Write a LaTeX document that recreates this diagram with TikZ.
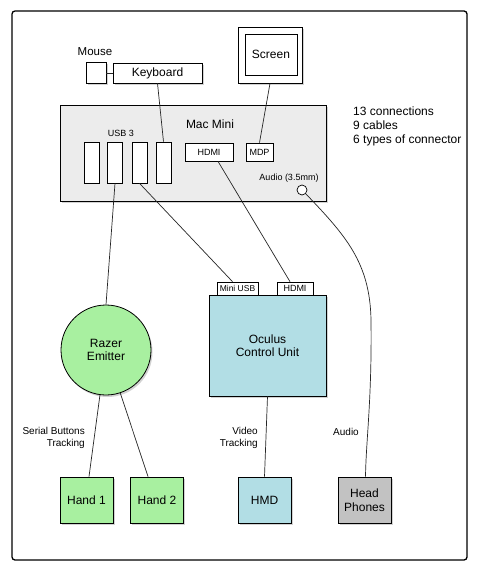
\documentclass[tikz,border=0pt]{standalone}
\usepackage{fontspec}
\setmainfont{Liberation Sans}
\usetikzlibrary{shadows,calc}
\definecolor{macgray}{HTML}{ECECEC}
\definecolor{grn}{HTML}{A8F0A0}
\definecolor{blu}{HTML}{B2DEE5}
\definecolor{gry}{HTML}{C2C2C2}
\tikzset{
  shd/.style={drop shadow={shadow xshift=1.5pt,shadow yshift=-2pt,opacity=0.35}},
  box/.style={draw,line width=0.8pt,fill=white,shd,inner sep=0pt,font=\fontsize{12}{13.5}\selectfont,align=center},
  port/.style={draw,line width=0.7pt,fill=white,inner sep=0pt,font=\fontsize{9}{10}\selectfont},
  lbl/.style={font=\fontsize{10}{12}\selectfont,inner sep=0pt,align=right},
  wire/.style={line width=0.7pt,draw=black!85}
}
\begin{document}
\begin{tikzpicture}[x=1pt,y=-1pt]
\useasboundingbox (0,0) rectangle (479,572);
\draw[line width=1.3pt,rounded corners=3pt,fill=white] (12,11) rectangle (467,560);

% top devices
\node[box,minimum width=20pt,minimum height=21pt] (mouse) at (96,73) {};
\node[lbl,font=\fontsize{11.5}{12}\selectfont] (mouselbl) at (95,52) {Mouse};
\node[box,minimum width=89pt,minimum height=20pt] (kb) at (157.5,73) {Keyboard};
\draw[wire] (mouse) -- (kb);
\node[box,minimum width=64pt,minimum height=56pt] (scrout) at (270,55) {};
\node[draw,line width=0.8pt,fill=white,minimum width=52pt,minimum height=41pt,inner sep=0pt,font=\fontsize{12}{13.5}\selectfont] (scr) at (271,54.5) {Screen};

% Mac mini
\node[box,fill=macgray,minimum width=266pt,minimum height=96pt] (mac) at (193,153) {};
\node[font=\fontsize{12}{13.5}\selectfont,inner sep=0pt] (maclbl) at (210,124) {Mac Mini};
\node[lbl,font=\fontsize{9}{10}\selectfont] (usblbl) at (121,133) {USB 3};
\foreach \i/\x in {1/91.5,2/115,3/139.5,4/163.5}
  \node[port,minimum width=15pt,minimum height=41pt] (p\i) at (\x,162.5) {};
\node[port,minimum width=48pt,minimum height=18pt] (hdmi) at (209,152) {HDMI};
\node[port,minimum width=27pt,minimum height=18pt] (mdp) at (259.5,152) {MDP};
\node[lbl,font=\fontsize{9}{10}\selectfont] (audlbl) at (289,178) {Audio (3.5mm)};
\node[draw,circle,line width=0.7pt,fill=white,minimum size=10pt,inner sep=0pt] (aud) at (302,190) {};

\node[anchor=north west,inner sep=0pt,align=left,font=\fontsize{12}{14}\selectfont] (info) at (353,107) {13 connections\\9 cables\\6 types of connector};

% Oculus
\node[box,fill=blu,minimum width=117pt,minimum height=101pt] (ocu) at (267.5,345.5) {Oculus\\Control Unit};
\node[port,font=\fontsize{8.5}{10}\selectfont,minimum width=41pt,minimum height=13pt] (musb) at (237.5,288.5) {Mini USB};
\node[port,minimum width=36pt,minimum height=13pt] (hdmi2) at (295,288.5) {HDMI};

% Razer
\node[box,circle,fill=grn,minimum size=90pt] (razer) at (106,350) {Razer\\Emitter};

% bottom devices
\node[box,fill=grn,minimum width=53pt,minimum height=46pt] (h1) at (86.5,500) {Hand 1};
\node[box,fill=grn,minimum width=53pt,minimum height=46pt] (h2) at (157,500) {Hand 2};
\node[box,fill=blu,minimum width=53pt,minimum height=46pt] (hmd) at (264.5,500) {HMD};
\node[box,fill=gry,minimum width=53pt,minimum height=46pt] (hp) at (364.5,500) {Head\\Phones};

% labels
\node[lbl,anchor=east] (l1) at (85,437.5) {Serial Buttons\\Tracking};
\node[lbl,anchor=east] (l2) at (258,437.5) {Video\\Tracking};
\node[lbl] (l3) at (346,432) {Audio};

% wires
\draw[wire] (kb.south) -- (p4.north);
\draw[wire] (scrout.south) -- (mdp.north);
\draw[wire] (p2.south) -- (razer.north);
\draw[wire] (p3.south) -- ([xshift=-5pt]musb.north);
\draw[wire] ([xshift=9pt]hdmi.south) -- ([xshift=-5pt]hdmi2.north);
\draw[wire] (aud.south east) .. controls (345,235) and (370,262) .. (371,320) .. controls (372,400) and (366,440) .. ([xshift=1pt]hp.north);
\draw[wire] (ocu.south) -- (hmd.north);
\draw[wire] (razer) -- ([xshift=2.5pt]h1.north);
\draw[wire] (razer) -- ([xshift=-9pt]h2.north);
\end{tikzpicture}
\end{document}
